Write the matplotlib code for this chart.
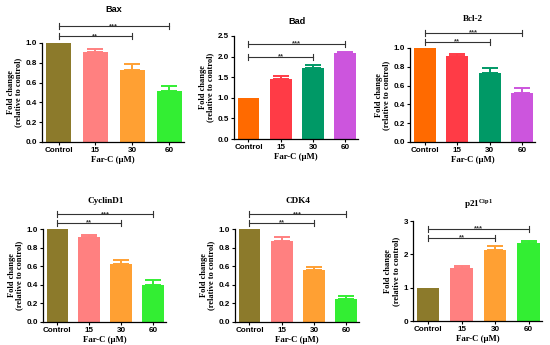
import matplotlib
matplotlib.use("Agg")
import matplotlib.pyplot as plt

groups = ["Control", "15", "30", "60"]

bax = [1.0, 0.91, 0.73, 0.52]
bax_err = [0.0, 0.03, 0.06, 0.05]
bad = [1.0, 1.46, 1.72, 2.08]
bad_err = [0.0, 0.06, 0.07, 0.03]
bcl2 = [1.0, 0.91, 0.73, 0.52]
bcl2_err = [0.0, 0.03, 0.06, 0.05]
cyclind1 = [1.0, 0.91, 0.62, 0.40]
cyclind1_err = [0.0, 0.03, 0.05, 0.05]
cdk4 = [1.0, 0.87, 0.56, 0.25]
cdk4_err = [0.0, 0.04, 0.03, 0.03]
p21 = [1.0, 1.58, 2.12, 2.33]
p21_err = [0.0, 0.06, 0.12, 0.07]

colors_a = ["#8c7a2b", "#ff8080", "#ffa033", "#33ee33"]
colors_b = ["#ff6a00", "#ff3b46", "#009966", "#cc55dd"]

SERIF = "Liberation Serif"
SANS = "Liberation Sans"

W, H = 550, 345
fig = plt.figure(figsize=(5.5, 3.45), dpi=100)

# panel: title, values, errors, colors, ylim, yticks, tick fmt, rect px (left, bottom, right, top),
# bracket y (**, ***), title y, title font
panels = [
    ("Bax", bax, bax_err, colors_a, 1.0, [0, 0.2, 0.4, 0.6, 0.8, 1.0], "%.1f",
     (42, 142, 184, 43), (1.07, 1.17), 1.34, SANS),
    ("Bad", bad, bad_err, colors_b, 2.5, [0, 0.5, 1.0, 1.5, 2.0, 2.5], "%.1f",
     (234, 139, 358, 36), (1.99, 2.31), 2.84, SANS),
    ("Bcl-2", bcl2, bcl2_err, colors_b, 1.0, [0, 0.2, 0.4, 0.6, 0.8, 1.0], "%.1f",
     (410, 142, 535, 48), (1.064, 1.16), 1.31, SERIF),
    ("CyclinD1", cyclind1, cyclind1_err, colors_a, 1.0, [0, 0.2, 0.4, 0.6, 0.8, 1.0], "%.1f",
     (43, 322, 166, 229), (1.065, 1.16), 1.30, SERIF),
    ("CDK4", cdk4, cdk4_err, colors_a, 1.0, [0, 0.2, 0.4, 0.6, 0.8, 1.0], "%.1f",
     (235, 322, 359, 229), (1.065, 1.16), 1.30, SERIF),
    (r"p21$^{\mathregular{Cip1}}$", p21, p21_err, colors_a, 3.0, [0, 1, 2, 3], "%d",
     (413, 321, 542, 221), (2.49, 2.76), 3.51, SERIF),
]

for title, vals, errs, cols, ymax, yt, fmt, rect, bry, ty, tfont in panels:
    l, b, r, t = rect
    ax = fig.add_axes([l / W, 1 - b / H, (r - l) / W, (b - t) / H])
    x = range(len(groups))
    ax.bar(x, vals, width=0.68, color=cols, zorder=2)
    for xi, v, e, c in zip(x, vals, errs, cols):
        if e > 0:
            ax.errorbar(xi, v, yerr=[[0], [e]], color=c, capsize=5.5, elinewidth=1.4,
                        capthick=1.4, zorder=1)
    ax.set_xlim(-0.45, 3.4)
    ax.set_ylim(0, ymax)
    ax.set_yticks(yt)
    ax.set_yticklabels([fmt % v for v in yt], fontfamily=SANS, fontweight="bold", fontsize=5.8)
    ax.set_xticks(list(x))
    ax.set_xticklabels(groups, fontfamily=SANS, fontweight="bold", fontsize=5.8)
    ax.spines["top"].set_visible(False)
    ax.spines["right"].set_visible(False)
    ax.spines["left"].set_linewidth(0.9)
    ax.spines["bottom"].set_linewidth(0.9)
    ax.tick_params(length=2.2, width=0.8, pad=1.5)
    ax.set_ylabel("Fold change\n(relative to control)", fontfamily=SERIF, fontweight="bold",
                  fontsize=6, labelpad=2, linespacing=1.0)
    ax.set_xlabel("Far-C (\u03bcM)", fontfamily=SERIF, fontweight="bold", fontsize=6.3, labelpad=1)
    ax.text(1.5, ty, title, ha="center", va="center", fontfamily=tfont, fontweight="bold",
            fontsize=6.6)

    # significance brackets
    tick = ymax * 0.03
    for (x2, yb, star) in [(2, bry[0], "**"), (3, bry[1], "***")]:
        ax.plot([0, x2], [yb, yb], color="#333333", lw=0.8, clip_on=False)
        ax.plot([0, 0], [yb - tick, yb + tick], color="#333333", lw=0.8, clip_on=False)
        ax.plot([x2, x2], [yb - tick, yb + tick], color="#333333", lw=0.8, clip_on=False)
        ax.annotate(star, (x2 / 2, yb), xytext=(0, -1.2), textcoords="offset points",
                    ha="center", va="baseline", fontsize=5.5, fontfamily=SANS,
                    fontweight="bold", color="#333333", annotation_clip=False)

fig.savefig("out.png", dpi=100)
